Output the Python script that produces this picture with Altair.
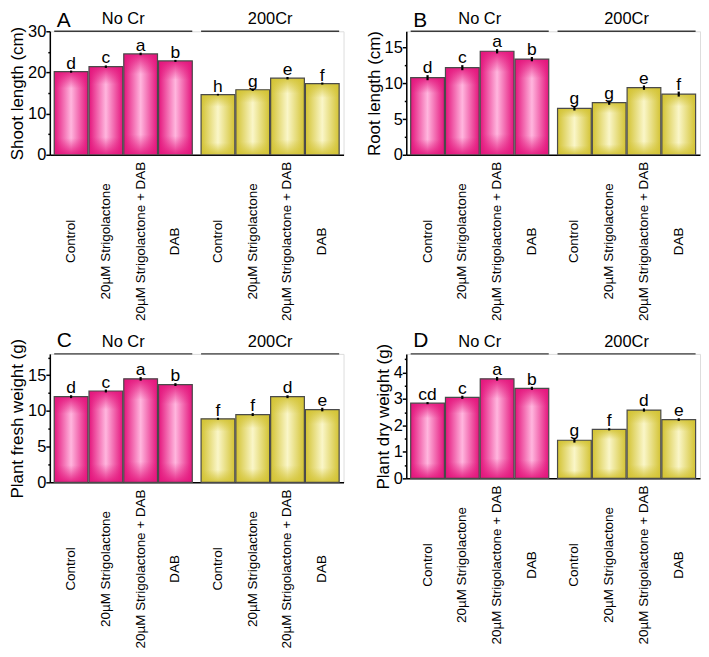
import altair as alt
import pandas as pd

FONT = "Liberation Sans"

groups = ["No Cr", "200Cr"]
treatments = ["Control", "20µM Strigolactone", "20µM Strigolactone + DAB", "DAB"]
panel_letters = ["A", "B", "C", "D"]
y_titles = ["Shoot length (cm)", "Root length (cm)", "Plant fresh weight (g)", "Plant dry weight (g)"]

shoot_mean = [20.2, 21.4, 24.5, 22.8, 14.6, 15.8, 18.6, 17.3]
shoot_err = [0.25, 0.3, 0.3, 0.25, 0.2, 0.3, 0.3, 0.25]
shoot_sig = ["d", "c", "a", "b", "h", "g", "e", "f"]

root_mean = [10.8, 12.2, 14.5, 13.4, 6.5, 7.3, 9.4, 8.5]
root_err = [0.35, 0.35, 0.3, 0.3, 0.3, 0.3, 0.3, 0.35]
root_sig = ["d", "c", "a", "b", "g", "g", "e", "f"]

fresh_mean = [12.0, 12.8, 14.5, 13.7, 8.9, 9.5, 12.0, 10.2]
fresh_err = [0.2, 0.2, 0.25, 0.2, 0.15, 0.2, 0.2, 0.25]
fresh_sig = ["d", "c", "a", "b", "f", "f", "d", "e"]

dry_mean = [2.84, 3.06, 3.76, 3.40, 1.44, 1.85, 2.58, 2.22]
dry_err = [0.04, 0.06, 0.07, 0.06, 0.09, 0.04, 0.06, 0.05]
dry_sig = ["cd", "c", "a", "b", "g", "f", "d", "e"]

means = [shoot_mean, root_mean, fresh_mean, dry_mean]
errs = [shoot_err, root_err, fresh_err, dry_err]
sigs = [shoot_sig, root_sig, fresh_sig, dry_sig]

# layout / style per panel
specs = [
    dict(domain=[0, 30], major=10, width=295, height=124, letter_y=-4),
    dict(domain=[0, 17.3], major=5, width=295, height=124, letter_y=-4),
    dict(domain=[0, 18], major=5, width=295, height=129, letter_y=-7),
    dict(domain=[0, 4.7], major=1, width=295, height=125, letter_y=-7),
]

palettes = {
    "No Cr": ("#e4147c", "#ffb6de", "228,20,124"),
    "200Cr": ("#d3c333", "#faf6c8", "211,195,51"),
}


def hgrad(edge, center):
    return {"gradient": "linear", "x1": 0, "y1": 0, "x2": 1, "y2": 0,
            "stops": [{"offset": 0, "color": edge},
                      {"offset": 0.5, "color": center},
                      {"offset": 1, "color": edge}]}


def vgrad(rgb):
    return {"gradient": "linear", "x1": 0, "y1": 0, "x2": 0, "y2": 1,
            "stops": [{"offset": 0, "color": f"rgba({rgb},0.9)"},
                      {"offset": 0.2, "color": f"rgba({rgb},0)"},
                      {"offset": 0.8, "color": f"rgba({rgb},0)"},
                      {"offset": 1, "color": f"rgba({rgb},0.9)"}]}


X = alt.X("group:N", sort=groups,
          scale=alt.Scale(domain=groups, paddingInner=0.06, paddingOuter=0.03),
          axis=alt.Axis(labels=False, ticks=False, title=None,
                        domainColor="black", domainWidth=1.5))
XO = alt.XOffset("treat:N", sort=treatments,
                 scale=alt.Scale(domain=treatments, paddingInner=0.03, paddingOuter=0))


def make_panel(i):
    sp = specs[i]
    w, h, major = sp["width"], sp["height"], sp["major"]
    top = sp["domain"][1]
    tick_vals = []
    v = 0.0
    while v <= top + 1e-9:
        tick_vals.append(round(v, 4))
        v += major / 2
    df = pd.DataFrame({
        "group": [g for g in groups for _ in treatments],
        "treat": treatments * 2,
        "mean": means[i],
        "err": errs[i],
        "sig": sigs[i],
    })
    is_major = f"abs(datum.value % {major}) < 1e-6"
    yaxis = alt.Axis(
        values=tick_vals,
        labelExpr=f"{is_major} ? format(datum.value, '~g') : ''",
        tickSize={"condition": {"test": is_major, "value": 4}, "value": 2},
        grid=False, domainColor="black", domainWidth=1.5, tickColor="black", tickWidth=1.5,
        labelColor="black", labelFontSize=16.5, labelPadding=0, labelFont=FONT,
        titleColor="black", titleFontSize=17, titleFontWeight="normal", titlePadding=1, titleFont=FONT,
    )
    yscale = alt.Scale(domain=sp["domain"], nice=False, zero=True)

    def Y(field):
        return alt.Y(field, title=y_titles[i], scale=yscale, axis=yaxis)

    base = alt.Chart(df).encode(x=X, xOffset=XO)
    layers = []
    for g in groups:
        edge, center, rgb = palettes[g]
        layers.append(base.transform_filter(alt.datum.group == g)
                      .mark_bar(fill=hgrad(edge, center), strokeWidth=0)
                      .encode(y=Y("mean:Q")))
    for g in groups:
        edge, center, rgb = palettes[g]
        layers.append(base.transform_filter(alt.datum.group == g)
                      .mark_bar(fill=vgrad(rgb), stroke="#4a4a4a", strokeWidth=1.2)
                      .encode(y=Y("mean:Q")))
    calc = base.transform_calculate(lo="datum.mean - datum.err", hi="datum.mean + datum.err")
    err = calc.mark_rule(color="black", strokeWidth=2.2).encode(y=Y("lo:Q"), y2="hi:Q")
    sigt = calc.mark_text(fontSize=17.5, baseline="alphabetic", dy=-2, font=FONT, color="black").encode(
        y=Y("hi:Q"), text="sig:N")
    lbl = base.mark_text(angle=270, align="center", baseline="middle", fontSize=13.5,
                         font=FONT, color="black").encode(y=alt.value(h + 87), text="treat:N")
    gdf = pd.DataFrame({"group": groups})
    hdr_line = alt.Chart(gdf).mark_bar(fill="#3a3a3a").encode(
        x=X, y=alt.value(-0.7), y2=alt.value(0.7))
    hdr_txt = alt.Chart(gdf).mark_text(fontSize=16.5, baseline="middle", font=FONT, color="black").encode(
        x=X, y=alt.value(-12), text="group:N")
    letter = alt.Chart(pd.DataFrame({"p": [panel_letters[i]]})).mark_text(
        fontSize=21, align="left", baseline="alphabetic", font=FONT, color="black").encode(
        x=alt.value(7), y=alt.value(sp["letter_y"]), text="p:N")
    return alt.layer(*layers, err, sigt, lbl, hdr_line, hdr_txt, letter).properties(width=w, height=h)


panels = [make_panel(i) for i in range(4)]
chart = alt.concat(*panels, columns=2, spacing={"row": 200, "column": 63}, bounds="flush").properties(
    padding=0
).configure_view(stroke=None).configure(font=FONT)

chart.save("out.html", embed_options={"renderer": "svg", "actions": False})
